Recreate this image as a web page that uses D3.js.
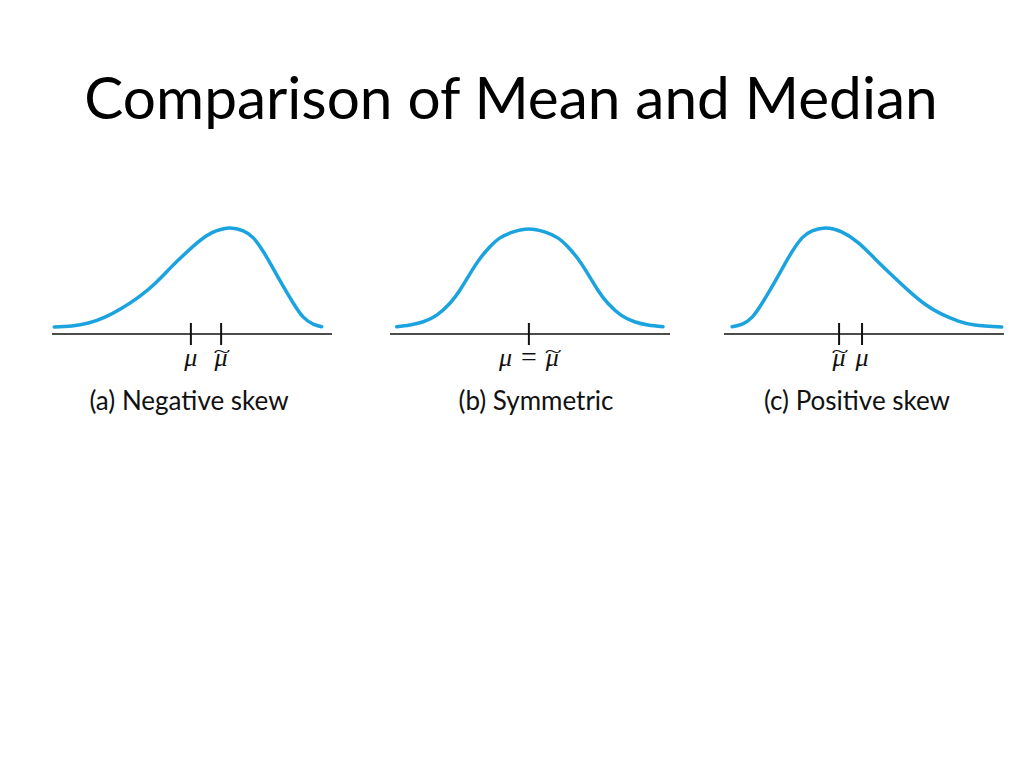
<!DOCTYPE html>
<html>
<head>
<meta charset="utf-8">
<script src="https://cdn.jsdelivr.net/npm/d3@7"></script>
<style>
  body { margin: 0; background: #fff; }
</style>
</head>
<body>
<div id="grafico"></div>
<script>
// Datos (x: 0-100 a lo largo del eje, y: 0-1 altura relativa)
const paneles = ["a", "b", "c"];
const titulos = ["(a) Negative skew", "(b) Symmetric", "(c) Positive skew"];

const curvaA_x = [0.8, 7.0, 13.0, 18.9, 24.9, 30.8, 36.8, 42.75, 47.5, 52.25, 57.0, 63.2, 68.3, 71.9, 75.5, 79.0, 82.6, 86.2, 89.75, 93.3, 96.3];
const curvaA_y = [0.0, 0.01, 0.04, 0.10, 0.19, 0.30, 0.44, 0.61, 0.74, 0.86, 0.95, 1.0, 0.97, 0.90, 0.76, 0.59, 0.41, 0.24, 0.10, 0.03, 0.003];

const curvaB_x = [2.4, 7.1, 11.9, 16.7, 21.4, 25.0, 28.6, 32.1, 35.7, 39.3, 44.0, 49.6, 55.2, 59.9, 63.5, 67.1, 70.6, 74.2, 77.8, 82.5, 87.3, 92.1, 97.5];
const curvaB_y = [0.003, 0.02, 0.053, 0.12, 0.24, 0.374, 0.54, 0.69, 0.81, 0.90, 0.96, 0.99, 0.96, 0.90, 0.81, 0.69, 0.54, 0.374, 0.24, 0.12, 0.053, 0.02, 0.003];

const curvaC_x = [2.9, 6.5, 10.05, 13.6, 17.2, 20.8, 24.3, 27.9, 31.5, 36.4, 42.0, 48.0, 53.9, 59.9, 65.8, 71.8, 77.75, 83.7, 89.6, 99.2];
const curvaC_y = [0.003, 0.03, 0.10, 0.24, 0.41, 0.59, 0.76, 0.90, 0.97, 1.0, 0.96, 0.85, 0.69, 0.525, 0.37, 0.23, 0.13, 0.06, 0.02, 0.0];

// marcas: posicion de la media y de la mediana
const marcasA = [49.6, 60.4];
const marcasB = [49.6];
const marcasC = [41.1, 49.3];

// etiquetas de las marcas: partes del texto, la ultima lleva tilde si hace falta
const etiquetasA = [{ x: 49.6, t: ["μ"], tilde: false }, { x: 60.4, t: ["μ"], tilde: true }];
const etiquetasB = [{ x: 49.6, t: ["μ", "=", "μ"], tilde: true }];
const etiquetasC = [{ x: 41.1, t: ["μ"], tilde: true }, { x: 49.3, t: ["μ"], tilde: false }];

const curvasX = [curvaA_x, curvaB_x, curvaC_x];
const curvasY = [curvaA_y, curvaB_y, curvaC_y];
const marcas = [marcasA, marcasB, marcasC];
const etiquetas = [etiquetasA, etiquetasB, etiquetasC];

// Medidas
const width = 1024, height = 768;
const ejeInicio = [52, 390, 724];
const centroTitulo = [189, 536, 857];
const ejeAncho = 280;
const yEje = 334;
const azul = "#1ba3df";

const svg = d3.select('#grafico')
  .append('svg')
  .attr('width', width)
  .attr('height', height);

// Titulo
svg.append('text')
  .attr('x', 511)
  .attr('y', 119)
  .attr('text-anchor', 'middle')
  .attr('font-family', 'Lato, sans-serif')
  .attr('font-size', 58.5)
  .attr('fill', '#000')
  .text('Comparison of Mean and Median');

const y = d3.scaleLinear().domain([0, 1]).range([327, 228]);

paneles.forEach((p, i) => {

  const x = d3.scaleLinear()
    .domain([0, 100])
    .range([ejeInicio[i], ejeInicio[i] + ejeAncho]);

  const g = svg.append('g').attr('class', 'panel-' + p);

  // Eje
  g.append('line')
    .attr('x1', x(0)).attr('x2', x(100))
    .attr('y1', yEje).attr('y2', yEje)
    .attr('stroke', '#111')
    .attr('stroke-width', 1.6);

  // Marcas
  g.selectAll('line.marca')
    .data(marcas[i])
    .join('line')
    .attr('class', 'marca')
    .attr('x1', d => x(d)).attr('x2', d => x(d))
    .attr('y1', yEje - 11).attr('y2', yEje + 11)
    .attr('stroke', '#111')
    .attr('stroke-width', 2);

  // Curva
  const puntos = curvasX[i].map((v, k) => [v, curvasY[i][k]]);
  const linea = d3.line()
    .x(d => x(d[0]))
    .y(d => y(d[1]))
    .curve(d3.curveNatural);

  g.append('path')
    .datum(puntos)
    .attr('d', linea)
    .attr('fill', 'none')
    .attr('stroke', azul)
    .attr('stroke-width', 3.5)
    .attr('stroke-linecap', 'round');

  // Etiquetas de mu
  etiquetas[i].forEach(e => {
    const t = g.append('text')
      .attr('x', x(e.x))
      .attr('y', 366)
      .attr('text-anchor', 'middle')
      .attr('font-family', '"Liberation Serif", serif')
      .attr('font-size', 26)
      .attr('fill', '#111');

    e.t.forEach((parte, k) => {
      t.append('tspan')
        .attr('dx', k > 0 ? 9 : null)
        .attr('font-style', parte === "=" ? 'normal' : 'italic')
        .attr('font-size', parte === "=" ? 28 : null)
        .text(parte);
    });

    if (e.tilde) {
      // tilde ancha encima del ultimo mu
      const caja = t.node().getExtentOfChar(t.node().getNumberOfChars() - 1);
      const cx = caja.x + caja.width / 2 + 1;
      g.append('text')
        .attr('transform', `translate(${cx}, 357) scale(1.5, 0.8)`)
        .attr('text-anchor', 'middle')
        .attr('font-family', '"Liberation Serif", serif')
        .attr('font-size', 21)
        .attr('fill', '#111')
        .text('~');
    }
  });

  // Titulo del panel
  g.append('text')
    .attr('x', centroTitulo[i])
    .attr('y', 410)
    .attr('text-anchor', 'middle')
    .attr('font-family', 'Lato, sans-serif')
    .attr('font-size', 26)
    .attr('fill', '#111')
    .text(titulos[i]);
});
</script>
</body>
</html>
